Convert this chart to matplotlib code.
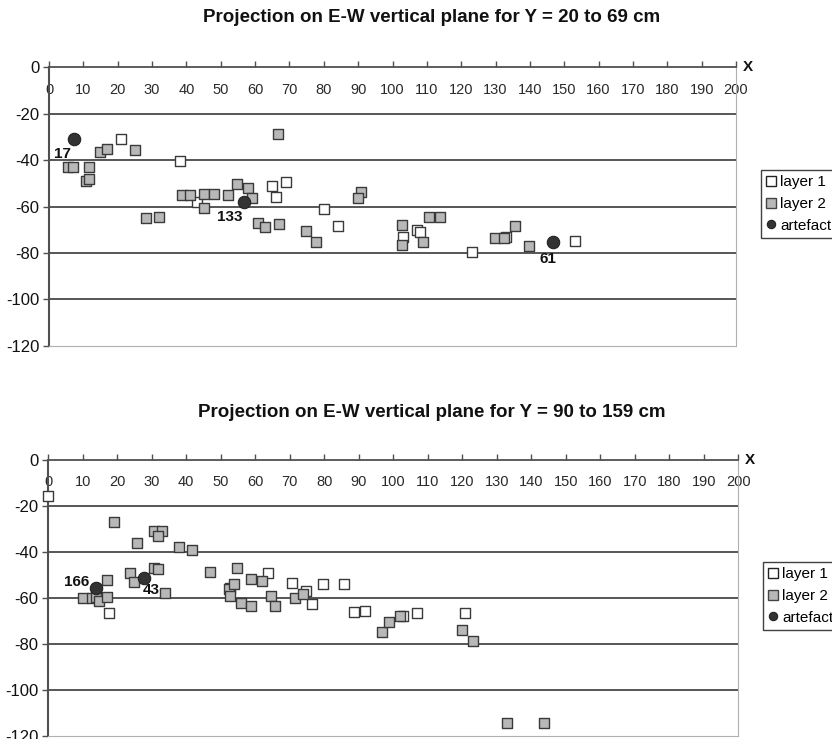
import matplotlib
matplotlib.use("Agg")
import matplotlib.pyplot as plt
from matplotlib.lines import Line2D

plt.rcParams['font.family'] = ['Liberation Sans', 'DejaVu Sans']

# ---------------- data ----------------
titles = ["Projection on E-W vertical plane for Y = 20 to 69 cm",
          "Projection on E-W vertical plane for Y = 90 to 159 cm"]
x_ticks = list(range(0, 201, 10))
y_ticks = [0, -20, -40, -60, -80, -100, -120]
legend_labels = ["layer 1", "layer 2", "artefact"]

# top panel (Y = 20 to 69 cm)
top_l1_x = [21, 38, 43, 65, 66, 69, 80, 84, 103, 107, 108, 123, 133, 153]
top_l1_y = [-31, -40.5, -58, -51, -56, -49.6, -61, -68.3, -73.2, -70, -70.8, -79.5, -73, -75]
top_l2_x = [5.4, 7.1, 11.7, 10.8, 11.7, 14.8, 16.8, 25, 28.2, 31.9, 38.7, 41, 45, 45,
            48.1, 52, 54.7, 57.9, 59.1, 60.8, 63, 67, 66.8, 74.7, 77.6, 90.7, 90,
            102.9, 102.9, 110.7, 113.7, 109, 129.8, 132.5, 135.7, 139.8]
top_l2_y = [-43, -43, -43, -48.9, -47.9, -36.6, -35, -35.8, -65, -64.3, -55, -55, -54.5, -60.8,
            -54.5, -55, -50.3, -52, -56.5, -66.9, -69, -67.5, -28.8, -70.5, -75.4, -53.8, -56.5,
            -67.9, -76.6, -64.4, -64.4, -75.4, -73.6, -73.6, -68.3, -76.8]
top_art_x = [7.2, 56.8, 146.8]
top_art_y = [-31, -58.1, -75.3]
top_art_lab = ["17", "133", "61"]

# bottom panel (Y = 90 to 159 cm)
bot_l1_x = [0, 17.7, 52.7, 63.7, 70.7, 74.8, 76.5, 79.7, 85.7, 88.6, 91.8, 102.9, 107, 120.9]
bot_l1_y = [-15.7, -66.5, -55.8, -49, -53.4, -57.1, -62.5, -54, -54, -66.3, -65.7, -67.8, -66.4, -66.4]
bot_l2_x = [10, 12.6, 13.9, 14.8, 17, 17, 18.9, 23.8, 24.7, 25.7, 30.6, 32.9, 31.9, 30.7, 31.9,
            33.9, 37.9, 41.7, 46.8, 54.7, 52.5, 52.7, 53.7, 55.8, 58.8, 58.8, 61.8, 64.6, 65.7,
            71.6, 73.7, 96.6, 98.8, 101.9, 120, 123, 132.9, 143.8]
bot_l2_y = [-60.2, -60.2, -59.5, -61.4, -59.5, -52.2, -27.1, -49.3, -53.2, -36, -31, -31, -33.2,
            -46.9, -47.6, -58, -38, -39.2, -48.6, -46.9, -56.2, -59.2, -54, -62.2, -52, -63.5,
            -52.6, -59.2, -63.5, -60.2, -58.3, -74.7, -70.6, -67.8, -73.8, -78.9, -114.6, -114.3]
bot_art_x = [13.8, 27.8]
bot_art_y = [-55.6, -51.2]
bot_art_lab = ["166", "43"]

# ---------------- style ----------------
W, H = 832, 739
fig = plt.figure(figsize=(W / 100, H / 100), dpi=100)

GRAY_FILL = "#b8b8b8"
EDGE = "#3a3a3a"
ART = "#333333"

panels = [
    dict(rect=(49, 67.5, 736, 345.7), title_y=17,
         l1=(top_l1_x, top_l1_y), l2=(top_l2_x, top_l2_y),
         art=(top_art_x, top_art_y, top_art_lab),
         offs=[(-11, -15), (-14, -15), (-5, -17)],
         leg=(761, 170)),
    dict(rect=(48.3, 460, 738.3, 735.7), title_y=413,
         l1=(bot_l1_x, bot_l1_y), l2=(bot_l2_x, bot_l2_y),
         art=(bot_art_x, bot_art_y, bot_art_lab),
         offs=[(-19, 6), (7, -12)],
         leg=(763, 562)),
]

for i, p in enumerate(panels):
    x0, y0, x1, y1 = p["rect"]
    ax = fig.add_axes([x0 / W, 1 - y1 / H, (x1 - x0) / W, (y1 - y0) / H])
    ax.set_xlim(0, 200)
    ax.set_ylim(-120, 0)
    ax.set_facecolor("white")

    # grid lines
    for gy in [-20, -40, -60, -80, -100]:
        ax.axhline(gy, color="#3a3a3a", lw=1.2, zorder=1)

    # spines
    ax.spines["top"].set_color("#505050")
    ax.spines["top"].set_linewidth(1.3)
    ax.spines["left"].set_color("#505050")
    ax.spines["left"].set_linewidth(1.5)
    ax.spines["right"].set_color("#b0b0b0")
    ax.spines["bottom"].set_color("#b0b0b0")

    # x axis along top (y = 0), labels below the line
    ax.xaxis.tick_top()
    ax.set_xticks(x_ticks)
    ax.set_xticklabels([str(v) for v in x_ticks])
    ax.tick_params(axis="x", direction="out", length=4, width=1, color="#505050",
                   pad=-15, labelsize=10.5, labelcolor="#2a2a2a")
    for lab in ax.get_xticklabels():
        lab.set_verticalalignment("top")
    ax.set_yticks(y_ticks)
    ax.set_yticklabels([str(v) for v in y_ticks])
    ax.tick_params(axis="y", direction="out", length=4, width=1, color="#505050",
                   pad=3, labelsize=12, labelcolor="#111111")

    # X label
    ax.text(1.0175, 1.0, "X", transform=ax.transAxes, fontsize=11, fontweight="bold",
            ha="center", va="center", color="#111111")

    # data
    ax.scatter(*p["l1"], marker="s", s=55, facecolor="white", edgecolor=EDGE,
               linewidths=1.0, zorder=3, clip_on=False)
    ax.scatter(*p["l2"], marker="s", s=55, facecolor=GRAY_FILL, edgecolor=EDGE,
               linewidths=1.0, zorder=4, clip_on=False)
    ax_x, ax_y, labs = p["art"]
    ax.scatter(ax_x, ax_y, marker="o", s=80, facecolor=ART, edgecolor="#222222",
               linewidths=0.8, zorder=5)
    for xx, yy, lb, (dx, dy) in zip(ax_x, ax_y, labs, p["offs"]):
        ax.annotate(lb, (xx, yy), xytext=(dx, dy), textcoords="offset pixels",
                    ha="center", va="center", fontsize=11, fontweight="bold",
                    color="#111111", zorder=6)

    # title
    fig.text(432 / W, 1 - p["title_y"] / H, titles[i], ha="center", va="center",
             fontsize=13.5, fontweight="bold", color="#111111")

    # legend
    handles = [
        Line2D([], [], ls="none", marker="s", ms=7, mfc="white", mec="#222222", mew=1.0),
        Line2D([], [], ls="none", marker="s", ms=7, mfc=GRAY_FILL, mec="#444444", mew=1.0),
        Line2D([], [], ls="none", marker="o", ms=6, mfc=ART, mec="#222222", mew=0.8),
    ]
    lx, ly = p["leg"]
    leg = fig.legend(handles, legend_labels, loc="upper left",
                     bbox_to_anchor=(lx / W, 1 - ly / H), fontsize=11,
                     frameon=True, fancybox=False, edgecolor="#111111",
                     handlelength=0.6, handletextpad=0.3, labelspacing=0.5,
                     borderpad=0.35, borderaxespad=0.0)
    leg.get_frame().set_linewidth(1.0)

fig.savefig("out.png", dpi=100, facecolor="white")
